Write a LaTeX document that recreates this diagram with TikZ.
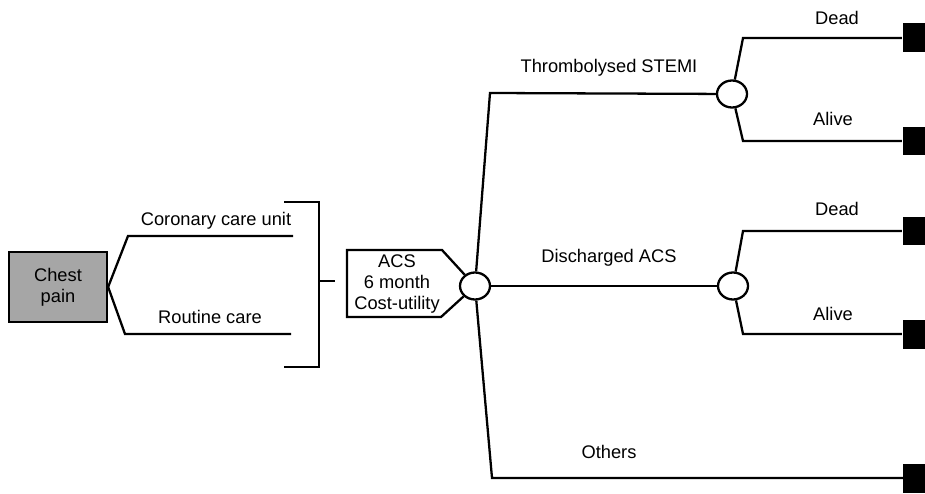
\documentclass[tikz,border=0pt]{standalone}
\usepackage{fontspec}
\setmainfont{Liberation Sans}
\usetikzlibrary{shapes.geometric}
\definecolor{boxgray}{HTML}{A6A6A6}
\begin{document}
\begin{tikzpicture}[x=0.02cm,y=-0.02cm, line width=1.3pt, line join=miter,
  lbl/.style={inner sep=0pt, font=\fontsize{10.4}{12}\selectfont},
  chance/.style={ellipse, draw, fill=white, minimum width=0.6cm, minimum height=0.54cm, inner sep=0pt},
  term/.style={rectangle, fill=black, minimum width=0.58cm, minimum height=0.58cm, inner sep=0pt},
  dec/.style={rectangle, draw, fill=boxgray, minimum width=1.96cm, minimum height=1.4cm, align=center, inner sep=0pt, font=\fontsize{10.4}{12}\selectfont}]
\useasboundingbox (0,0) rectangle (925,493);
\clip (0,0) rectangle (925,493);

% decision node
\node[dec] (cp) at (58,287) {Chest\\pain};

% strategy branches
\coordinate (k1) at (128,236);
\coordinate (e1) at (293,236);
\coordinate (k2) at (125,334);
\coordinate (e2) at (291,334);
\draw (cp.east) -- (k1) -- (e1);
\draw (cp.east) -- (k2) -- (e2);
\node[lbl] (lcc) at (216,221) {Coronary care unit};
\node[lbl] (lrc) at (210,317) {Routine care};

% bracket
\coordinate (b1) at (284,202);
\coordinate (b2) at (319,202);
\coordinate (b3) at (319,367);
\coordinate (b4) at (284,367);
\coordinate (bm) at (319,281);
\coordinate (bt) at (335,281);
\draw (b1) -- (b2) -- (b3) -- (b4);
\draw (bm) -- (bt);

% chance nodes
\node[chance] (c1) at (475,286) {};
\node[chance] (c2) at (732,94) {};
\node[chance] (c3) at (733,286) {};

% ACS tag
\coordinate (g1) at (347,250);
\coordinate (g2) at (442,250);
\coordinate (g3) at (441,317);
\coordinate (g4) at (347,317);
\draw (c1) -- (g2) -- (g1) -- (g4) -- (g3) -- (c1);
\node[lbl, align=center] (acs) at (397,284) {ACS\\6 month\\Cost-utility};

% first chance branches
\coordinate (u1) at (490,93);
\coordinate (u2) at (492,478);
\draw (c1) -- (u1) -- (c2);
\draw (c1) -- (c3);
\draw (c1) -- (u2) -- (905,478);
\node[lbl] (lts) at (609,68) {Thrombolysed STEMI};
\node[lbl] (lda) at (609,258) {Discharged ACS};
\node[lbl] (lot) at (609,452) {Others};

% terminal nodes
\node[term] (t1) at (917.5,38) {};
\node[term] (t2) at (917.5,141) {};
\node[term] (t3) at (917.5,231) {};
\node[term] (t4) at (917.5,334) {};
\node[term] (t5) at (917.5,478) {};

% outcome branches
\coordinate (d1) at (743,38);
\coordinate (a1) at (743,141);
\coordinate (d2) at (743,231);
\coordinate (a2) at (743,334);
\draw (c2) -- (d1) -- (t1.west);
\draw (c2) -- (a1) -- (t2.west);
\draw (c3) -- (d2) -- (t3.west);
\draw (c3) -- (a2) -- (t4.west);
\node[lbl] (ld1) at (837,18) {Dead};
\node[lbl] (la1) at (833,119) {Alive};
\node[lbl] (ld2) at (837,209) {Dead};
\node[lbl] (la2) at (833,314) {Alive};
\end{tikzpicture}
\end{document}
